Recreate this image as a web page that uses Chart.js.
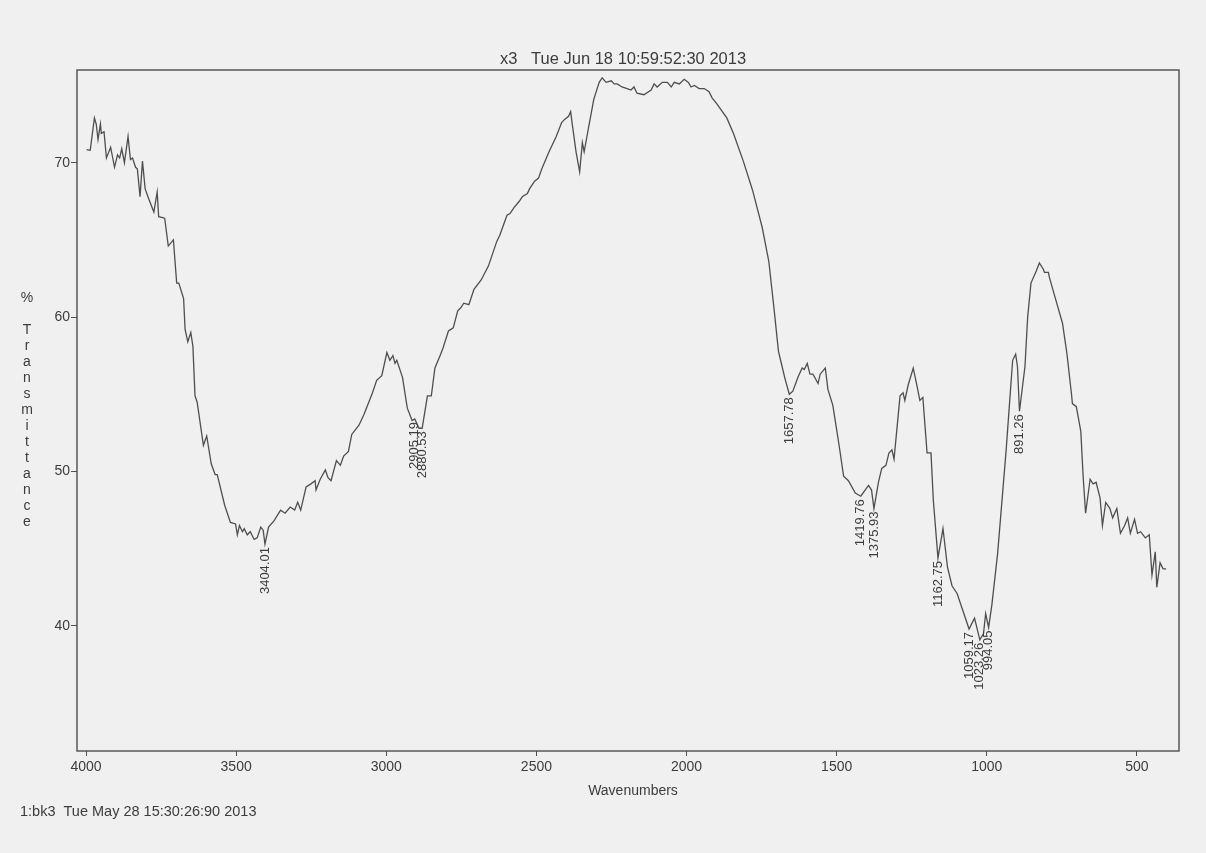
<!DOCTYPE html>
<html>
<head>
<meta charset="utf-8">
<script src="https://cdn.jsdelivr.net/npm/chart.js@4.4.1/dist/chart.umd.min.js"></script>
<style>
  html, body { margin: 0; padding: 0; background: #f0f0f0; }
  canvas { display: block; }
</style>
</head>
<body>
<canvas id="c" width="1206" height="853"></canvas>
<script>
// Wavenumbers (cm-1) and % transmittance
const wavenumbers = [
  3998, 3986, 3972, 3966, 3960, 3952, 3949, 3940, 3932, 3918,
  3905, 3895, 3888, 3881, 3872, 3860, 3852, 3845, 3835, 3829,
  3820, 3812, 3803, 3790, 3774, 3763, 3758, 3738, 3726, 3709,
  3698, 3691, 3675, 3670, 3661, 3651, 3644, 3637, 3630, 3609,
  3598, 3583, 3570, 3563, 3538, 3519, 3502, 3496, 3489, 3479,
  3473, 3463, 3453, 3440, 3430, 3418, 3410, 3404.01, 3392, 3374,
  3352, 3337, 3320, 3305, 3295, 3285, 3267, 3251, 3237, 3234,
  3220, 3203, 3194, 3184, 3166, 3153, 3142, 3126, 3115, 3091,
  3074, 3056, 3046, 3032, 3015, 2998, 2988, 2978, 2971, 2965,
  2946, 2930, 2914, 2905.19, 2891, 2880.53, 2863, 2850, 2838, 2821,
  2811, 2793, 2777, 2762, 2752, 2742, 2725, 2708, 2684, 2660,
  2632, 2622, 2598, 2588, 2574, 2557, 2547, 2530, 2523, 2506,
  2493, 2482, 2458, 2434, 2416, 2406, 2393, 2386, 2380, 2368,
  2356, 2347, 2341, 2327, 2309, 2291, 2281, 2268, 2251, 2241,
  2231, 2215, 2198, 2185, 2175, 2165, 2142, 2118, 2108, 2098,
  2081, 2064, 2051, 2041, 2024, 2008, 1994, 1985, 1974, 1958,
  1941, 1925, 1915, 1899, 1866, 1844, 1811, 1780, 1748, 1726,
  1709, 1694, 1688, 1672, 1657.78, 1646, 1629, 1615, 1608, 1598,
  1589, 1579, 1562, 1555, 1538, 1529, 1513, 1492, 1477, 1461,
  1438, 1419.76, 1394, 1384, 1375.93, 1361, 1350, 1336, 1326, 1316,
  1309, 1289, 1279, 1273, 1262, 1245, 1232, 1223, 1213, 1199,
  1186, 1178, 1162.75, 1146, 1131, 1116, 1099, 1059.17, 1041, 1023.26,
  1011, 1004, 994.05, 983, 964, 936, 914, 904, 898, 891.26,
  873, 864, 853, 835, 825, 812, 808, 795, 792, 776,
  748, 733, 718, 715, 702, 687, 679, 671, 656, 646,
  636, 623, 615, 604, 590, 581, 567, 555, 541, 531,
  522, 508, 498, 488, 472, 459, 450, 439, 434, 423,
  413, 403
];
const transmittance = [
  70.85, 70.8, 72.9, 72.5, 71.5, 72.5, 71.9, 72.0, 70.3, 71.0,
  69.7, 70.5, 70.3, 70.9, 70.0, 71.7, 70.2, 70.3, 69.7, 69.6,
  67.8, 70.1, 68.3, 67.6, 66.8, 68.1, 66.5, 66.4, 64.6, 65.0,
  62.2, 62.2, 61.2, 59.2, 58.4, 59.0, 58.1, 54.9, 54.5, 51.7,
  52.3, 50.5, 49.8, 49.8, 47.8, 46.7, 46.6, 45.9, 46.5, 46.1,
  46.3, 45.9, 46.1, 45.6, 45.7, 46.4, 46.2, 45.3, 46.4, 46.8,
  47.5, 47.3, 47.7, 47.5, 48.0, 47.5, 49.0, 49.2, 49.4, 48.8,
  49.5, 50.1, 49.6, 49.4, 50.7, 50.4, 51.0, 51.3, 52.4, 53.0,
  53.7, 54.6, 55.1, 55.9, 56.2, 57.7, 57.2, 57.5, 57.0, 57.2,
  56.1, 54.1, 53.3, 53.4, 52.8, 52.8, 54.9, 54.9, 56.7, 57.5,
  58.0, 59.1, 59.3, 60.4, 60.6, 60.9, 60.8, 61.8, 62.4, 63.3,
  64.9, 65.3, 66.6, 66.7, 67.1, 67.5, 67.8, 68.0, 68.3, 68.8,
  69.0, 69.6, 70.7, 71.7, 72.6, 72.8, 73.0, 73.3, 72.4, 70.7,
  69.4, 71.3, 70.7, 72.2, 74.1, 75.2, 75.5, 75.2, 75.3, 75.1,
  75.1, 74.9, 74.8, 74.7, 74.9, 74.5, 74.4, 74.7, 75.1, 74.9,
  75.2, 75.2, 74.9, 75.2, 75.1, 75.4, 75.2, 74.9, 75.0, 74.8,
  74.8, 74.6, 74.2, 73.8, 72.9, 71.9, 70.1, 68.2, 65.8, 63.6,
  60.6, 57.8, 57.3, 56.0, 55.0, 55.2, 56.1, 56.7, 56.6, 57.0,
  56.3, 56.3, 55.7, 56.3, 56.7, 55.3, 54.3, 51.7, 49.7, 49.4,
  48.6, 48.4, 49.1, 48.8, 47.6, 49.3, 50.2, 50.4, 51.2, 51.4,
  50.8, 54.9, 55.1, 54.6, 55.6, 56.7, 55.5, 54.6, 54.8, 51.2,
  51.2, 48.1, 44.4, 46.3, 43.8, 42.6, 42.1, 39.8, 40.5, 39.1,
  39.5, 40.8, 39.9, 41.4, 44.7, 51.3, 57.2, 57.6, 56.8, 53.9,
  56.8, 60.0, 62.2, 63.0, 63.5, 63.1, 62.9, 62.9, 62.6, 61.5,
  59.6, 57.6, 55.0, 54.4, 54.2, 52.6, 49.6, 47.3, 49.5, 49.2,
  49.3, 48.3, 46.5, 48.0, 47.6, 47.0, 47.6, 46.0, 46.5, 47.0,
  46.0, 46.9, 46.0, 46.1, 45.7, 45.9, 43.3, 44.8, 42.5, 44.1,
  43.7, 43.7
];
const xTickValues = [4000, 3500, 3000, 2500, 2000, 1500, 1000, 500];
const yTickValues = [40, 50, 60, 70];
const peakWaves = [3404.01, 2905.19, 2880.53, 1657.78, 1419.76, 1375.93, 1162.75, 1059.17, 1023.26, 994.05, 891.26];
const peakLabels = ['3404.01', '2905.19', '2880.53', '1657.78', '1419.76', '1375.93', '1162.75', '1059.17', '1023.26', '994.05', '891.26'];
const titleText = 'x3   Tue Jun 18 10:59:52:30 2013';
const xTitle = 'Wavenumbers';
const yTitleChars = ['%', '', 'T', 'r', 'a', 'n', 's', 'm', 'i', 't', 't', 'a', 'n', 'c', 'e'];
const footText = '1:bk3  Tue May 28 15:30:26:90 2013';

const FONT = '"Liberation Sans", Arial, Helvetica, sans-serif';
const TEXT = '#3c3c3c';
const LINE = '#4e4e4e';

const points = wavenumbers.map((w, i) => ({ x: w, y: transmittance[i] }));

const decor = {
  id: 'decor',
  beforeDraw(chart) {
    const ctx = chart.ctx;
    ctx.save();
    ctx.fillStyle = '#f0f0f0';
    ctx.fillRect(0, 0, chart.width, chart.height);
    ctx.restore();
  },
  afterDatasetsDraw(chart) {
    const ctx = chart.ctx;
    const xs = chart.scales.x, ys = chart.scales.y;
    const a = chart.chartArea;
    ctx.save();
    // frame
    ctx.strokeStyle = LINE;
    ctx.lineWidth = 1.4;
    ctx.strokeRect(a.left, a.top, a.right - a.left, a.bottom - a.top);
    // peak labels
    ctx.fillStyle = TEXT;
    ctx.font = '13px ' + FONT;
    peakWaves.forEach((pw, k) => {
      let best = 0;
      for (let i = 1; i < wavenumbers.length; i++) {
        if (Math.abs(wavenumbers[i] - pw) < Math.abs(wavenumbers[best] - pw)) best = i;
      }
      const px = xs.getPixelForValue(pw);
      const py = ys.getPixelForValue(transmittance[best]) + 3;
      ctx.save();
      ctx.translate(px, py);
      ctx.rotate(-Math.PI / 2);
      ctx.textAlign = 'right';
      ctx.textBaseline = 'middle';
      ctx.fillText(peakLabels[k], 0, 0);
      ctx.restore();
    });
    // title
    ctx.textAlign = 'center';
    ctx.textBaseline = 'alphabetic';
    ctx.font = '16.5px ' + FONT;
    ctx.fillText(titleText, (a.left + a.right) / 2 - 5, a.top - 6);
    // x axis title
    ctx.font = '14px ' + FONT;
    ctx.fillText(xTitle, (a.left + a.right) / 2 + 5, a.bottom + 44);
    // footer
    ctx.textAlign = 'left';
    ctx.font = '14.5px ' + FONT;
    ctx.fillText(footText, 20, a.bottom + 65);
    // y axis title (stacked letters)
    ctx.textAlign = 'center';
    ctx.textBaseline = 'middle';
    ctx.font = '14px ' + FONT;
    const cy = (a.top + a.bottom) / 2;
    const lh = 16;
    const start = cy - (yTitleChars.length - 1) / 2 * lh;
    yTitleChars.forEach((ch, i) => {
      if (ch) ctx.fillText(ch, 27, start + i * lh);
    });
    ctx.restore();
  }
};

new Chart(document.getElementById('c'), {
  type: 'line',
  data: {
    datasets: [{
      data: points,
      borderColor: LINE,
      borderWidth: 1.3,
      pointRadius: 0,
      tension: 0,
      fill: false
    }]
  },
  options: {
    responsive: false,
    animation: false,
    parsing: true,
    layout: { padding: { left: 0, top: 70, right: 27, bottom: 0 } },
    plugins: { legend: { display: false }, tooltip: { enabled: false }, title: { display: false } },
    scales: {
      x: {
        type: 'linear',
        reverse: true,
        min: 360,
        max: 4030,
        afterBuildTicks: s => { s.ticks = xTickValues.map(v => ({ value: v })); },
        afterFit: s => { s.height = 102; },
        ticks: {
          color: TEXT,
          font: { family: FONT, size: 14 },
          padding: 3,
          maxRotation: 0,
          autoSkip: false,
          callback: v => String(v)
        },
        grid: { display: true, drawOnChartArea: false, drawTicks: true, tickLength: 5, color: LINE, lineWidth: 1 },
        border: { display: false }
      },
      y: {
        type: 'linear',
        min: 31.9,
        max: 76,
        afterBuildTicks: s => { s.ticks = yTickValues.map(v => ({ value: v })); },
        afterFit: s => { s.width = 77; },
        ticks: {
          color: TEXT,
          font: { family: FONT, size: 14 },
          padding: 1,
          autoSkip: false,
          callback: v => String(v)
        },
        grid: { display: true, drawOnChartArea: false, drawTicks: true, tickLength: 6, color: LINE, lineWidth: 1 },
        border: { display: false }
      }
    }
  },
  plugins: [decor]
});
</script>
</body>
</html>
